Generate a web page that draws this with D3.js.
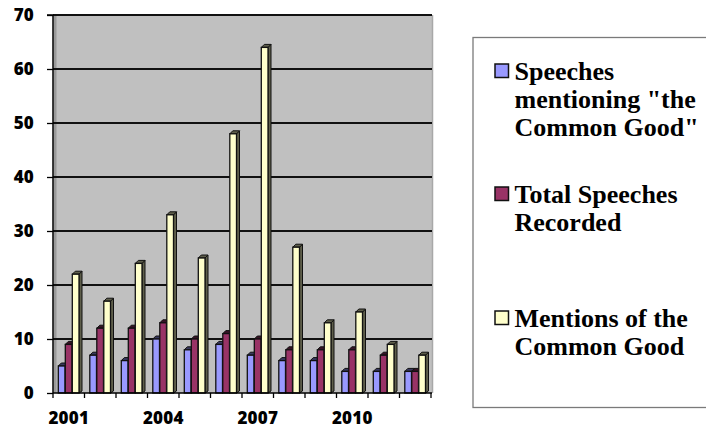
<!DOCTYPE html>
<html>
<head>
<meta charset="utf-8">
<script src="https://cdn.jsdelivr.net/npm/d3@7"></script>
<style>
  html, body { margin: 0; padding: 0; background: #fff; }
  svg { display: block; }
</style>
</head>
<body>
<svg id="chart" width="706" height="428"></svg>
<script>
const years = ["2001","2002","2003","2004","2005","2006","2007","2008","2009","2010","2011","2012"];
const seriesNames = ['Speeches mentioning "the Common Good"', 'Total Speeches Recorded', 'Mentions of the Common Good'];
const speechesMentioning = [5, 7, 6, 10, 8, 9, 7, 6, 6, 4, 4, 4];
const totalSpeeches      = [9, 12, 12, 13, 10, 11, 10, 8, 8, 8, 7, 4];
const mentionsCommonGood = [22, 17, 24, 33, 25, 48, 64, 27, 13, 15, 9, 7];
const seriesColors = ["#9999FF", "#993366", "#FFFFCC"];
const xTickLabels = ["2001", "2004", "2007", "2010"];
const yTicks = [0, 10, 20, 30, 40, 50, 60, 70];
const legendLines = [["Speeches", "mentioning \"the", "Common Good\""], ["Total Speeches", "Recorded"], ["Mentions of the", "Common Good"]];

const seriesValues = [speechesMentioning, totalSpeeches, mentionsCommonGood];

const svg = d3.select("#chart");
const L = 53, R = 431, T = 15, B = 393;

const x0 = d3.scaleBand().domain(years).range([L, R]).padding(0);
const x1 = d3.scaleBand().domain(d3.range(3)).range([5.3, 26.3]).padding(0);
const y = d3.scaleLinear().domain([0, 70]).range([B, T]);

// plot area
svg.append("rect").attr("x", L).attr("y", T).attr("width", R - L + 1).attr("height", B - T)
  .attr("fill", "#C0C0C0");
// 3D wall shading at left
svg.append("rect").attr("x", L + 1).attr("y", T).attr("width", 2.5).attr("height", B - T)
  .attr("fill", "#9a9a9a");
// right edge
svg.append("line").attr("x1", R + 1.5).attr("x2", R + 1.5).attr("y1", T).attr("y2", B)
  .attr("stroke", "#a8a8a8").attr("stroke-width", 1.5);

// gridlines
svg.append("g").selectAll("line").data(yTicks.filter(d => d > 0)).join("line")
  .attr("x1", L).attr("x2", R + 1).attr("y1", d => y(d)).attr("y2", d => y(d))
  .attr("stroke", "#111").attr("stroke-width", 2);

// bars (3D look)
const depth = 3;
const gBars = svg.append("g");
years.forEach((yr, i) => {
  seriesValues.forEach((vals, s) => {
    const v = vals[i];
    const bx = x0(yr) + x1(s);
    const bw = x1.bandwidth() - 0.3;
    const by = y(v);
    const fill = seriesColors[s];
    const dark = d3.color(fill).darker(2.8).formatHex();
    const g = gBars.append("g");
    // side face
    g.append("polygon")
      .attr("points", [[bx + bw, by], [bx + bw + depth, by - depth], [bx + bw + depth, B - depth + 1], [bx + bw, B]].map(p => p.join(",")).join(" "))
      .attr("fill", dark).attr("stroke", "#111").attr("stroke-width", 1).attr("stroke-linejoin", "round");
    // top face
    g.append("polygon")
      .attr("points", [[bx, by], [bx + depth, by - depth], [bx + bw + depth, by - depth], [bx + bw, by]].map(p => p.join(",")).join(" "))
      .attr("fill", dark).attr("stroke", "#111").attr("stroke-width", 1).attr("stroke-linejoin", "round");
    // front face
    g.append("rect").attr("x", bx).attr("y", by).attr("width", bw).attr("height", B - by)
      .attr("fill", fill).attr("stroke", "#111").attr("stroke-width", 1.3);
  });
});

// y axis
const yAxis = d3.axisLeft(y).tickValues(yTicks).tickSize(6).tickPadding(13);
const gy = svg.append("g").attr("transform", `translate(${L},0)`).call(yAxis);
gy.select(".domain").attr("stroke", "#000").attr("stroke-width", 1.5).attr("d", `M-6,${T}H0V${B}`);
gy.selectAll(".tick line").attr("stroke", "#000").attr("stroke-width", 1.3);
gy.selectAll(".tick text").attr("font-family", "'Open Sans', sans-serif").attr("font-weight", "800")
  .attr("font-size", "17px").attr("fill", "#000").attr("letter-spacing", "0.2px");

// x axis
const gx = svg.append("g").attr("transform", `translate(0,${B})`);
gx.append("line").attr("x1", L).attr("x2", R + 1).attr("y1", 0).attr("y2", 0)
  .attr("stroke", "#000").attr("stroke-width", 1.5);
const boundaries = years.map(yr => x0(yr)).concat([x0(years[years.length - 1]) + x0.bandwidth()]);
gx.selectAll("line.tk").data(boundaries).join("line").attr("class", "tk")
  .attr("x1", d => d).attr("x2", d => d).attr("y1", 0).attr("y2", 5)
  .attr("stroke", "#000").attr("stroke-width", 1.3);
gx.selectAll("text").data(xTickLabels).join("text")
  .attr("x", d => x0(d) + x0.bandwidth() / 2).attr("y", 31)
  .attr("text-anchor", "middle")
  .attr("font-family", "'Open Sans', sans-serif").attr("font-weight", "800")
  .attr("font-size", "17px").attr("fill", "#000").attr("letter-spacing", "0.2px")
  .text(d => d);

// legend
svg.append("rect").attr("x", 473).attr("y", 37.5).attr("width", 250).attr("height", 370)
  .attr("fill", "#fff").attr("stroke", "#7a7a7a").attr("stroke-width", 1.3);
const legendBaselines = [79.5, 202.5, 326.5];
const lineGap = 28.3;
const gl = svg.append("g");
legendLines.forEach((lines, s) => {
  const b0 = legendBaselines[s];
  gl.append("rect").attr("x", 495).attr("y", b0 - 15.5).attr("width", 13.5).attr("height", 13.5)
    .attr("fill", seriesColors[s]).attr("stroke", "#111").attr("stroke-width", 1.5);
  const t = gl.append("text").attr("x", 514.5).attr("y", b0)
    .attr("font-family", "'Liberation Serif', 'Times New Roman', serif").attr("font-weight", "bold")
    .attr("font-size", "26px").attr("fill", "#000");
  lines.forEach((ln, k) => {
    t.append("tspan").attr("x", 514.5).attr("y", b0 + k * lineGap).text(ln);
  });
});
</script>
</body>
</html>
